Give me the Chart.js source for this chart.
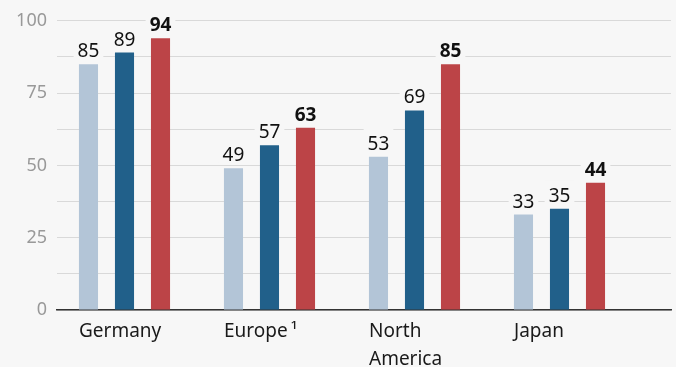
<!DOCTYPE html>
<html>
<head>
<meta charset="utf-8">
<script src="https://cdn.jsdelivr.net/npm/chart.js@4/dist/chart.umd.min.js"></script>
<style>
  html, body { margin: 0; padding: 0; background: #f7f7f7; }
  #wrap { width: 676px; height: 367px; }
</style>
</head>
<body>
<div id="wrap"><canvas id="chart" width="676" height="367"></canvas></div>
<script>
// ---------- Data ----------
const categories = ['Germany', 'Europe\u2009\u00b9', ['North', 'America'], 'Japan'];
const valuesLight = [85, 49, 53, 33];
const valuesDark = [89, 57, 69, 35];
const valuesRed = [94, 63, 85, 44];
const yTickLabels = [0, 25, 50, 75, 100];

const BG = '#f7f7f7';
const FONT = '"Noto Sans", "Liberation Sans", sans-serif';

const toPoints = vals => vals.map((v, i) => ({ x: i, y: v }));

// ---------- Value labels with a background box over the gridlines ----------
const valueLabels = {
  id: 'valueLabels',
  afterDatasetsDraw(chart) {
    const ctx = chart.ctx;
    ctx.save();
    chart.data.datasets.forEach((ds, di) => {
      const meta = chart.getDatasetMeta(di);
      meta.data.forEach((bar, i) => {
        const text = String(ds.data[i].y);
        ctx.font = (ds.boldLabel ? 'bold ' : '') + '19px ' + FONT;
        const w = ctx.measureText(text).width;
        ctx.fillStyle = BG;
        ctx.fillRect(bar.x - w / 2 - 4, bar.y - 28, w + 8, 22);
        ctx.fillStyle = '#111';
        ctx.textAlign = 'center';
        ctx.textBaseline = 'alphabetic';
        ctx.fillText(text, bar.x, bar.y - 7);
      });
    });
    ctx.restore();
  }
};

const barStyle = { categoryPercentage: 0.745, barPercentage: 0.53, borderWidth: 0 };

new Chart(document.getElementById('chart'), {
  type: 'bar',
  data: {
    datasets: [
      { data: toPoints(valuesLight), backgroundColor: '#b3c5d7', ...barStyle },
      { data: toPoints(valuesDark), backgroundColor: '#21608a', ...barStyle },
      { data: toPoints(valuesRed), backgroundColor: '#bc4447', boldLabel: true, ...barStyle }
    ]
  },
  options: {
    responsive: false,
    animation: false,
    layout: { padding: { top: 20, right: 5, left: 0, bottom: 0 } },
    plugins: { legend: { display: false }, tooltip: { enabled: false } },
    scales: {
      x: {
        type: 'linear',
        offset: false,
        min: -0.4655,
        max: 3.769,
        grid: { display: false, drawTicks: false, offset: false },
        border: { display: true, color: '#333', width: 1.5 },
        afterBuildTicks: scale => { scale.ticks = categories.map((_, i) => ({ value: i })); },
        afterFit: scale => { scale.height = 57; },
        ticks: {
          autoSkip: false,
          maxRotation: 0,
          align: 'start',
          labelOffset: -45.5,
          padding: 8,
          color: '#1a1a1a',
          font: { family: FONT, size: 19, lineHeight: 1.45 },
          callback: v => categories[v]
        }
      },
      y: {
        min: 0,
        max: 100,
        grid: { color: '#d9d9d9', lineWidth: 1, drawTicks: false },
        border: { display: false },
        afterFit: scale => { scale.width = 57; },
        ticks: {
          stepSize: 12.5,
          padding: 10,
          color: '#999',
          font: { family: FONT, size: 18 },
          callback: v => (yTickLabels.includes(v) ? v : '')
        }
      }
    }
  },
  plugins: [valueLabels]
});
</script>
</body>
</html>
